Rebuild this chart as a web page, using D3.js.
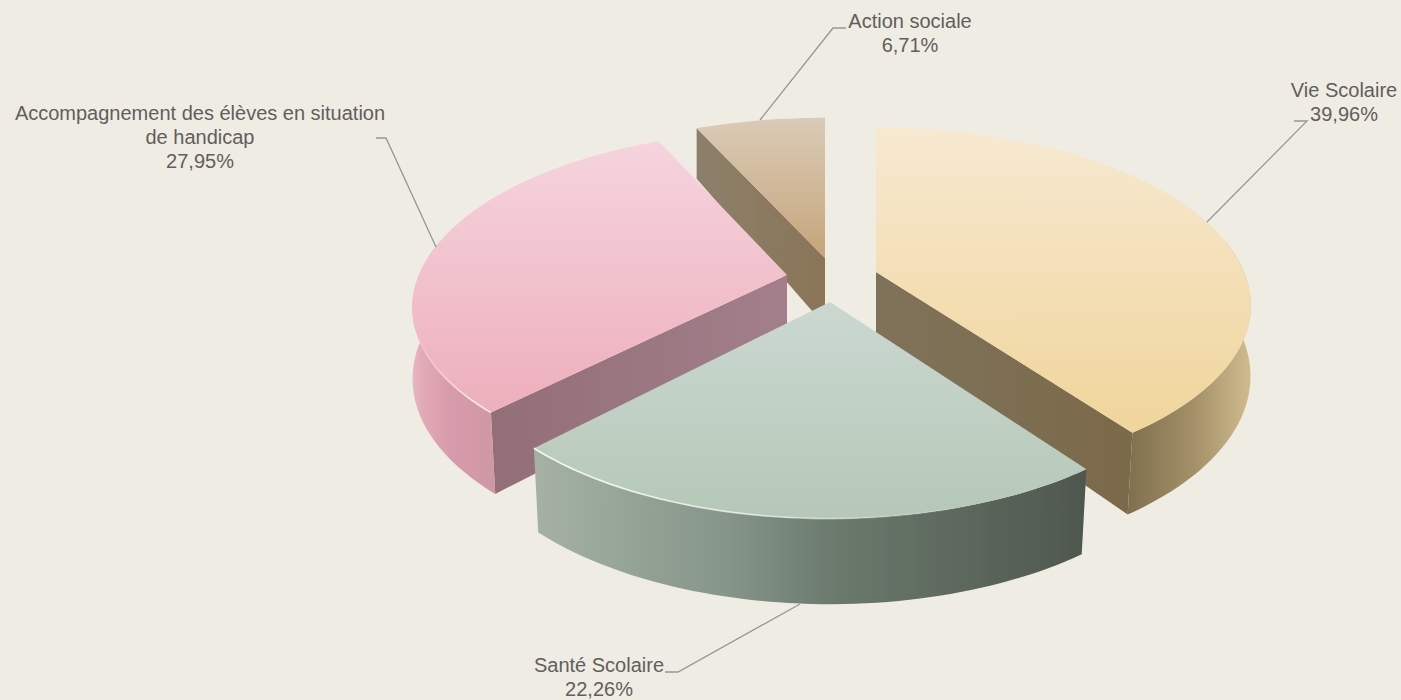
<!DOCTYPE html>
<html>
<head>
<meta charset="utf-8">
<script src="https://cdn.jsdelivr.net/npm/d3@7"></script>
<style>
html, body { margin: 0; padding: 0; background: #efece4; }
svg { display: block; }
text { font-family: "Liberation Sans", sans-serif; font-size: 20px; fill: #5f5f5b; }
</style>
</head>
<body>
<div id="chart"></div>
<script>
var categories = ["Vie Scolaire", "Santé Scolaire", "Accompagnement des élèves en situation de handicap", "Action sociale"];
// the printed percentages
var printed = ["39,96%", "22,26%", "27,95%", "6,71%"];
// slice sizes as drawn, the pink one is bigger than its printed label
var shares = [39.96, 22.26, 31.07, 6.71];

var width = 1401, height = 700;
var cx = 830, cy = 278;
var perspective = 0.19;

// slice styles, same order as categories
var explodeX = [46, 0, -43, -5];
var explodeY = [-6, 24, -3, -20];
var frontDepth = [0.98, 1.02, 0.96, 1];
var backDepth = [1, 1, 1, 0.97];
var drawOrder = [3, 2, 0, 1];
var topStops = [["#f7e9d1", "#f0d59b"], ["#cbd8d1", "#b5c8b7"], ["#f5d4dd", "#edafbc"], ["#dacbb7", "#c5a57a"]];
var outerStops = [
    ["#7b6b4a", "#7d6d4c", "#a49169", "#cfbc8e"],
    ["#a5b2a3", "#86958a", "#6a796c", "#4f574e"],
    ["#e9b6c3", "#e2a9b7", "#d79cab", "#cd95a3"],
    ["#8a7c66", "#8a7c66", "#8a7c66", "#8a7c66"]
];
var outerOffsets = [[0, 0.66, 0.85, 1], [0, 0.35, 0.55, 1], [0, 0.03, 0.1, 0.25], [0, 0.3, 0.6, 1]];
// the one straight wall each slice shows, colour at the centre and at the rim
var wallSide = ["end", null, "start", "start"];
var wallNear = ["#80725a", "#5a6259", "#a27f8b", "#8a7557"];
var wallFar = ["#7a6a4a", "#5a6259", "#936e77", "#8c7f6a"];
var shine = [0, 0.95, 0.8, 0];
var rimLength = [0, 1.1, 0.7, 0];

var svg = d3.select("#chart")
    .append("svg")
    .attr("width", width)
    .attr("height", height);

svg.append("rect")
    .attr("width", width)
    .attr("height", height)
    .attr("fill", "#efece4");

var defs = svg.append("defs");
defs.append("filter").attr("id", "soft")
    .append("feGaussianBlur").attr("stdDeviation", 0.45);

var xScale = d3.scaleLinear().domain([-1, 1]).range([-368, 368]);
var zScale = d3.scaleLinear().domain([-1, 1]).range([-172, 172]);

function depth(i, Z) {
    return Z > 0 ? Z * frontDepth[i] : Z * backDepth[i];
}

// local point of a slice on the top plane
function topPoint(i, a, r) {
    var X = r * Math.sin(a), Z = -r * Math.cos(a);
    var s = 1 / (1 - perspective * Z);
    return [cx + explodeX[i] + xScale(X) * s, cy + explodeY[i] + zScale(depth(i, Z)) * s];
}

// same point on the bottom plane, wall is taller toward the viewer
function bottomPoint(i, a, r) {
    var X = r * Math.sin(a), Z = -r * Math.cos(a);
    var s = 1 / (1 - perspective * Z);
    var shrink = Z > 0 ? 1 - 0.028 * Z * Z : 1;
    var h = 70 + 19 * (Z + explodeY[i] / 172);
    return [cx + explodeX[i] + xScale(X) * s * shrink,
            cy + explodeY[i] + zScale(depth(i, Z)) * s * shrink + h];
}

var line = d3.line();

function arcAngles(a0, a1) {
    var n = Math.max(8, Math.round((a1 - a0) * 40));
    return d3.range(n + 1).map(function(k) { return a0 + (a1 - a0) * k / n; });
}

var slices = d3.pie().sort(null).value(function(d) { return d; })
    .startAngle(0).endAngle(2 * Math.PI)(shares);

var pie3d = svg.append("g").attr("filter", "url(#soft)");

drawOrder.forEach(function(i) {
    var a0 = slices[i].startAngle, a1 = slices[i].endAngle;
    var angles = arcAngles(a0, a1);
    var g = pie3d.append("g").attr("class", "slice");

    var topPts = angles.map(function(a) { return topPoint(i, a, 1); });
    var apexTop = topPoint(i, 0, 0), apexBot = bottomPoint(i, 0, 0);

    // only the part of the rim that faces the viewer gets a wall
    var frontAngles = angles.filter(function(a) { return -Math.cos(a) > -0.2; });
    var frontTop = frontAngles.map(function(a) { return topPoint(i, a, 1); });
    var frontBot = frontAngles.map(function(a) { return bottomPoint(i, a, 1); });

    var yr = d3.extent(topPts.concat([apexTop]), function(p) { return p[1]; });
    var xr = d3.extent(topPts.concat([apexTop]), function(p) { return p[0]; });

    var gradTop = defs.append("linearGradient").attr("id", "top" + i)
        .attr("gradientUnits", "userSpaceOnUse")
        .attr("x1", 0).attr("x2", 0).attr("y1", yr[0]).attr("y2", yr[1]);
    gradTop.append("stop").attr("offset", 0).attr("stop-color", topStops[i][0]);
    gradTop.append("stop").attr("offset", 1).attr("stop-color", topStops[i][1]);

    var gradOut = defs.append("linearGradient").attr("id", "out" + i)
        .attr("gradientUnits", "userSpaceOnUse")
        .attr("x1", xr[0]).attr("x2", xr[1]).attr("y1", 0).attr("y2", 0);
    outerStops[i].forEach(function(c, k) {
        gradOut.append("stop").attr("offset", outerOffsets[i][k]).attr("stop-color", c);
    });

    // straight wall
    if (wallSide[i]) {
        var a = wallSide[i] === "start" ? a0 : a1;
        var rimTop = topPoint(i, a, 1), rimBot = bottomPoint(i, a, 1);
        var gradWall = defs.append("linearGradient").attr("id", "wall" + i)
            .attr("gradientUnits", "userSpaceOnUse")
            .attr("x1", apexTop[0]).attr("x2", rimTop[0]).attr("y1", 0).attr("y2", 0);
        gradWall.append("stop").attr("offset", 0).attr("stop-color", wallNear[i]);
        gradWall.append("stop").attr("offset", 1).attr("stop-color", wallFar[i]);
        g.append("path")
            .attr("d", line([apexTop, rimTop, rimBot, apexBot]) + "Z")
            .attr("fill", "url(#wall" + i + ")");
    }

    // outer wall
    if (frontAngles.length > 1) {
        g.append("path")
            .attr("d", line(frontTop.concat(frontBot.slice().reverse())) + "Z")
            .attr("fill", "url(#out" + i + ")");
    }

    // top
    g.append("path")
        .attr("d", line([apexTop].concat(topPts)) + "Z")
        .attr("fill", "url(#top" + i + ")");

    // light edge on the front rim, strongest at the corner nearest the left
    if (shine[i] > 0) {
        var rimAngles = i === 1 ? arcAngles(a1 - rimLength[i], a1) : arcAngles(a0, a0 + rimLength[i]);
        var rimPts = rimAngles.map(function(b) { return topPoint(i, b, 1); });
        var strong = i === 1 ? rimPts[rimPts.length - 1] : rimPts[0];
        var faint = i === 1 ? rimPts[0] : rimPts[rimPts.length - 1];
        var gradRim = defs.append("linearGradient").attr("id", "rim" + i)
            .attr("gradientUnits", "userSpaceOnUse")
            .attr("x1", strong[0]).attr("x2", faint[0]).attr("y1", 0).attr("y2", 0);
        gradRim.append("stop").attr("offset", 0).attr("stop-color", "#f4fbf4").attr("stop-opacity", shine[i]);
        gradRim.append("stop").attr("offset", 0.5).attr("stop-color", "#f4fbf4").attr("stop-opacity", shine[i] * 0.7);
        gradRim.append("stop").attr("offset", 1).attr("stop-color", "#f4fbf4").attr("stop-opacity", 0);
        g.append("path")
            .attr("d", line(rimPts))
            .attr("fill", "none")
            .attr("stroke", "url(#rim" + i + ")")
            .attr("stroke-width", 1.7);
    }
});

// labels, each with its lines of text and leader
var labelX = [1344, 599, 200, 910];
var labelY = [97, 672, 120, 28];
var labelLines = [
    ["Vie Scolaire", printed[0]],
    ["Santé Scolaire", printed[1]],
    ["Accompagnement des élèves en situation", "de handicap", printed[2]],
    ["Action sociale", printed[3]]
];
var leaders = [
    [[1294, 121], [1307, 121], [1207, 222]],
    [[665, 672], [678, 672], [800, 604]],
    [[376, 138], [386, 138], [436, 247]],
    [[846, 28], [833, 28], [760, 120]]
];

svg.selectAll(".leader")
    .data(leaders)
    .enter()
    .append("path")
    .attr("class", "leader")
    .attr("d", function(d) { return line(d); })
    .attr("fill", "none")
    .attr("stroke", "#969694")
    .attr("stroke-width", 1.3);

var labels = svg.selectAll(".label")
    .data(labelLines)
    .enter()
    .append("text")
    .attr("class", "label")
    .attr("text-anchor", "middle");

labels.selectAll("tspan")
    .data(function(d, i) { return d.map(function(t) { return {t: t, i: i}; }); })
    .enter()
    .append("tspan")
    .attr("x", function(d) { return labelX[d.i]; })
    .attr("y", function(d, k) { return labelY[d.i] + k * 24; })
    .text(function(d) { return d.t; });
</script>
</body>
</html>
